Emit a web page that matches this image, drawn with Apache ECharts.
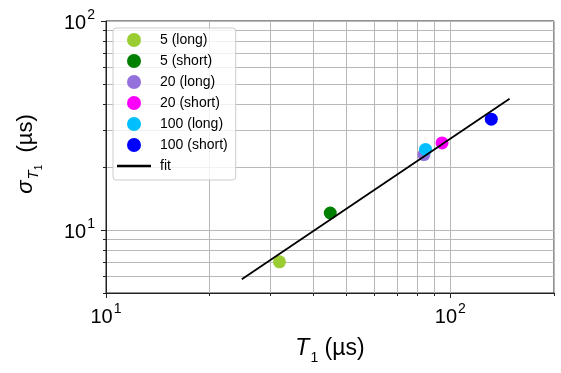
<!DOCTYPE html>
<html><head><meta charset="utf-8">
<script src="https://cdn.jsdelivr.net/npm/echarts@6/dist/echarts.min.js"></script>
<style>html,body{margin:0;padding:0;background:#fff}#c{width:561px;height:373px}</style>
</head><body><div id="c"></div><script>
// ---- data ----
const seriesNames = ['5 (long)', '5 (short)', '20 (long)', '20 (short)', '100 (long)', '100 (short)'];
const seriesColors = ['#9ACD32', '#008000', '#9370DB', '#FF00FF', '#00BFFF', '#0000FF'];
const t1Values = [31.9, 44.8, 83.8, 94.6, 84.7, 131.5];
const sigmaValues = [7.05, 12.07, 22.96, 26.1, 24.3, 33.9];
const fitT1 = [24.8, 148.6];
const fitSigma = [5.82, 42.5];
const xMajorTicks = [10, 100];
const xMinorTicks = [20, 30, 40, 50, 60, 70, 80, 90, 200];
const yMajorTicks = [10, 100];
const yMinorTicks = [5, 6, 7, 8, 9, 20, 30, 40, 50, 60, 70, 80, 90];

const FONT = 'Liberation Sans, Arial, sans-serif';
const chart = echarts.init(document.getElementById('c'), null, {renderer: 'canvas'});

const supFmt = v => '{b|10}{s|' + Math.round(Math.log10(v)) + '}';
const labelRich = {
  b: {fontSize: 20, fontFamily: FONT, color: '#000', verticalAlign: 'bottom'},
  s: {fontSize: 14, fontFamily: FONT, color: '#000', verticalAlign: 'bottom', padding: [0, 0, 11, 1]}
};
const gridLine = {show: true, lineStyle: {color: '#b8b8b8', width: 1}};

function makeAxis(kind, isMajor) {
  const major = kind === 'x' ? xMajorTicks : yMajorTicks;
  const minor = kind === 'x' ? xMinorTicks : yMinorTicks;
  const ax = {
    type: 'log', logBase: 10,
    min: kind === 'x' ? 10 : 5,
    max: kind === 'x' ? 200 : 100,
    position: kind === 'x' ? 'bottom' : 'left',
    axisLine: {show: isMajor, onZero: false, lineStyle: {color: '#222', width: 1}},
    axisTick: {show: true, inside: false, length: isMajor ? 5 : 3,
      customValues: isMajor ? major : minor, lineStyle: {color: '#222', width: 1}},
    axisLabel: isMajor ? {show: true, customValues: major, formatter: supFmt, rich: labelRich,
      margin: kind === 'x' ? 9 : 11} : {show: false},
    splitLine: gridLine,
    minorTick: {show: false}, minorSplitLine: {show: false},
    z: isMajor ? 3 : 2
  };
  if (isMajor) {
    if (kind === 'x') {
      ax.name = '{it|T}{sub|1}{n| (µs)}';
      ax.nameLocation = 'middle';
      ax.nameGap = 44;
      ax.nameTextStyle = {rich: {
        it: {fontSize: 23, fontStyle: 'italic', fontFamily: FONT, color: '#000', verticalAlign: 'bottom', padding: [0, 0, 5, 0]},
        sub: {fontSize: 14, fontFamily: FONT, color: '#000', verticalAlign: 'bottom', padding: [0, 0, 0, 1]},
        n: {fontSize: 23, fontFamily: FONT, color: '#000', verticalAlign: 'bottom', padding: [0, 0, 5, 0]}
      }};
    } else {
      ax.name = '{g|σ}{it|T}{sub|1}{n|  (µs)}';
      ax.nameLocation = 'middle';
      ax.nameRotate = 90;
      ax.nameGap = 62;
      ax.nameTextStyle = {padding: [0, 0, 0, 6], rich: {
        g: {fontSize: 22, fontStyle: 'italic', fontFamily: FONT, color: '#000', verticalAlign: 'bottom', padding: [0, 0, 7, 0]},
        it: {fontSize: 15, fontStyle: 'italic', fontFamily: FONT, color: '#000', verticalAlign: 'bottom', padding: [0, 0, 3, 1]},
        sub: {fontSize: 10, fontFamily: FONT, color: '#000', verticalAlign: 'bottom'},
        n: {fontSize: 22, fontFamily: FONT, color: '#000', verticalAlign: 'bottom', padding: [0, 0, 7, 0]}
      }};
    }
  }
  return ax;
}

const series = seriesNames.map((name, i) => ({
  name: name,
  type: 'scatter',
  xAxisIndex: 0, yAxisIndex: 0,
  symbol: 'circle',
  symbolSize: 13,
  itemStyle: {color: seriesColors[i], opacity: 1},
  data: [[t1Values[i], sigmaValues[i]]],
  z: 3
}));
series.push({
  name: 'fit',
  type: 'line',
  xAxisIndex: 0, yAxisIndex: 0,
  data: fitT1.map((x, i) => [x, fitSigma[i]]),
  showSymbol: false,
  symbol: 'none',
  lineStyle: {color: '#000', width: 1.8},
  itemStyle: {color: '#000'},
  z: 4
});

chart.setOption({
  animation: false,
  backgroundColor: '#fff',
  grid: {left: 106, right: 7, top: 21, bottom: 80, show: true, borderColor: '#222', borderWidth: 1, backgroundColor: 'transparent'},
  xAxis: [makeAxis('x', true), makeAxis('x', false)],
  yAxis: [makeAxis('y', true), makeAxis('y', false)],
  legend: {
    orient: 'vertical',
    left: 113, top: 28,
    padding: [5, 8, 7, 4],
    itemWidth: 34, itemHeight: 14, itemGap: 7,
    backgroundColor: 'rgba(255,255,255,0.8)',
    borderColor: '#cccccc', borderWidth: 1, borderRadius: 3,
    textStyle: {fontSize: 14, fontFamily: FONT, color: '#000', padding: [0, 0, 0, 4]},
    data: seriesNames.map(n => ({name: n, icon: 'circle'})).concat([{name: 'fit', icon: 'path://M0,0 L30,0 L30,2 L0,2 Z', itemStyle: {color: '#000'}}])
  },
  series: series
});
</script></body></html>
